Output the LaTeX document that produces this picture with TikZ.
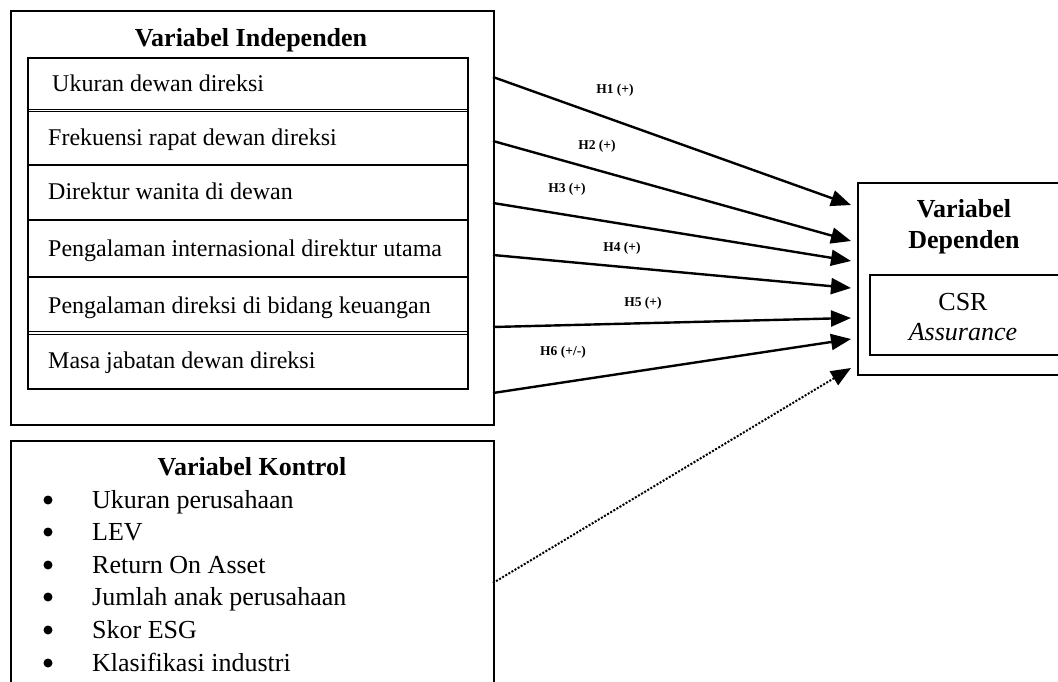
\documentclass[tikz,border=0pt]{standalone}
\usepackage{fontspec}
\setmainfont{Liberation Serif}
\usetikzlibrary{positioning,arrows.meta}

\begin{document}
\begin{tikzpicture}[x=1pt,y=-1pt,
    txt/.style={anchor=base west,inner sep=0pt,font=\fontsize{24}{29}\selectfont},
    lst/.style={anchor=base west,inner sep=0pt,font=\fontsize{26}{30}\selectfont},
    head/.style={anchor=base,inner sep=0pt,font=\fontsize{26}{30}\selectfont\bfseries},
    hyp/.style={inner sep=0pt,font=\fontsize{13.5}{16}\selectfont\bfseries},
    frame/.style={draw,line width=1.8pt,anchor=north west,inner sep=0pt},
    dot/.style={circle,fill,inner sep=0pt,minimum size=9pt},
    twin/.style={line width=1.2pt,double,double distance=1.3pt},
    arr/.style={-{Triangle[length=20pt,width=16pt]},line width=2.4pt}]
    \useasboundingbox (0,0) rectangle (1058,682);
    \clip (0,0) rectangle (1058,682);

    % independent variables
    \node[frame,minimum width=483pt,minimum height=414pt] (indep) at (10,10) {};
    \node[head] (ti) at (251,47) {Variabel Independen};
    \draw[twin] (28,110.5) -- (468,110.5);
    \draw[line width=2.6pt] (28,165) -- (468,165);
    \draw[line width=2.6pt] (28,220) -- (468,220);
    \draw[line width=2.6pt] (28,277) -- (468,277);
    \draw[twin] (28,333) -- (468,333);
    \draw[line width=2.6pt] (28,58) rectangle (468,389);
    \node[txt] (x1) at (52,92) {Ukuran dewan direksi};
    \node[txt] (x2) at (48,146) {Frekuensi rapat dewan direksi};
    \node[txt] (x3) at (48,200) {Direktur wanita di dewan};
    \node[txt] (x4) at (48,256) {Pengalaman internasional direktur utama};
    \node[txt] (x5) at (48,313) {Pengalaman direksi di bidang keuangan};
    \node[txt] (x6) at (48,368) {Masa jabatan dewan direksi};

    % dependent variable
    \node[frame,minimum width=214pt,minimum height=192pt] (dep) at (857,182) {};
    \node[head] (td1) at (964,218) {Variabel};
    \node[head] (td2) at (964,248) {Dependen};
    \node[frame,line width=2.4pt,minimum width=190pt,minimum height=80pt] (y) at (869,274) {};
    \node[lst,anchor=base] (y1) at (963,310) {CSR};
    \node[lst,anchor=base] (y2) at (963,340) {\itshape Assurance};

    % control variables
    \node[frame,minimum width=483pt,minimum height=260pt] (ctrl) at (10,440) {};
    \node[head] (tc) at (252,475) {Variabel Kontrol};
    \node[dot] (b1) at (48,500) {};
    \node[dot] (b2) at (48,532) {};
    \node[dot] (b3) at (48,565) {};
    \node[dot] (b4) at (48,597) {};
    \node[dot] (b5) at (48,630) {};
    \node[dot] (b6) at (48,663) {};
    \node[lst] (c1) at (92,508) {Ukuran perusahaan};
    \node[lst] (c2) at (92,540) {LEV};
    \node[lst] (c3) at (92,573) {Return On Asset};
    \node[lst] (c4) at (92,605) {Jumlah anak perusahaan};
    \node[lst] (c5) at (92,638) {Skor ESG};
    \node[lst] (c6) at (92,671) {Klasifikasi industri};

    % hypotheses
    \coordinate (s1) at (493,77);
    \coordinate (s2) at (493,141);
    \coordinate (s3) at (493,203);
    \coordinate (s4) at (493,255);
    \coordinate (s5) at (493,327);
    \coordinate (s6) at (493,393);
    \coordinate (s7) at (493,583);
    \coordinate (t1) at (851,205);
    \coordinate (t2) at (851,241);
    \coordinate (t3) at (851,261);
    \coordinate (t4) at (851,288);
    \coordinate (t5) at (851,318);
    \coordinate (t6) at (851,339);
    \coordinate (t7) at (851,368);
    \draw[arr] (s1) -- (t1);
    \draw[arr] (s2) -- (t2);
    \draw[arr] (s3) -- (t3);
    \draw[arr] (s4) -- (t4);
    \draw[arr] (s5) -- (t5);
    \draw[arr] (s6) -- (t6);
    \draw[arr,line width=2pt,dash pattern=on 2pt off 1.6pt] (s7) -- (t7);
    \node[hyp] (h1) at (615,90) {H1 (+)};
    \node[hyp] (h2) at (597,146) {H2 (+)};
    \node[hyp] (h3) at (567,189) {H3 (+)};
    \node[hyp] (h4) at (622,248) {H4 (+)};
    \node[hyp] (h5) at (643,303) {H5 (+)};
    \node[hyp] (h6) at (563,352) {H6 (+/-)};
\end{tikzpicture}
\end{document}
